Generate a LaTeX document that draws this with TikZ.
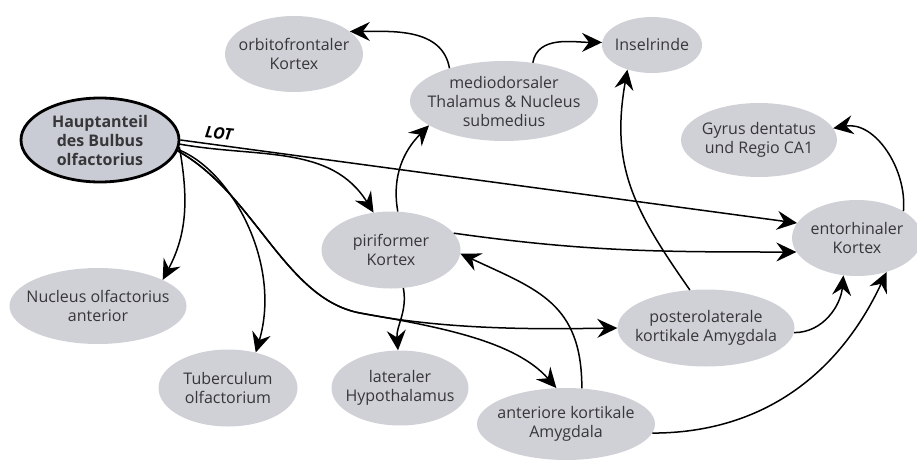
\documentclass[tikz,border=0pt]{standalone}
\usepackage{fontspec}
\setmainfont{Open Sans}
\usepackage{xcolor}
\usepackage{tikz}
\usetikzlibrary{shapes, arrows.meta, calc}

\definecolor{areagrey}{RGB}{208,209,214}
\definecolor{bulbgrey}{RGB}{201,204,212}
\definecolor{textgrey}{RGB}{55,55,58}

\begin{document}
\begin{tikzpicture}[x=1pt, y=1pt,
    area/.style={ellipse, fill=areagrey, inner xsep=-25pt, inner ysep=-12pt, align=center, text=textgrey,
                 font=\fontsize{16}{19}\selectfont},
    link/.style={line width=1.5pt, -{Stealth[length=20pt, width=19pt, inset=7pt]}}]
      \useasboundingbox (0,0) rectangle (917,459);

      \node[area, draw=black, line width=2.8pt, fill=bulbgrey, minimum width=158pt, minimum height=84pt,
            font=\fontsize{16}{19}\selectfont\bfseries] at (100,319) (bulbus) {Hauptanteil\\des Bulbus\\olfactorius};
      \node[area, minimum width=138pt, minimum height=76pt] at (294,405) (orbito) {orbitofrontaler\\Kortex};
      \node[area, minimum width=188pt, minimum height=80pt] at (504,358) (medio) {mediodorsaler\\Thalamus \& Nucleus\\submedius};
      \node[area, minimum width=100pt, minimum height=56pt] at (652,414) (insel) {Inselrinde};
      \node[area, minimum width=156pt, minimum height=74pt] at (759,319) (gyrus) {Gyrus dentatus\\und Regio CA1};
      \node[area, minimum width=130pt, minimum height=76pt] at (857,221) (ento) {entorhinaler\\Kortex};
      \node[area, minimum width=139pt, minimum height=77pt] at (391,209) (piri) {piriformer\\Kortex};
      \node[area, minimum width=177pt, minimum height=76pt] at (98,153) (noa) {Nucleus olfactorius\\anterior};
      \node[area, minimum width=139pt, minimum height=77pt] at (228,71) (tuber) {Tuberculum\\olfactorium};
      \node[area, minimum width=137pt, minimum height=75pt] at (400,71) (hypo) {lateraler\\Hypothalamus};
      \node[area, minimum width=177pt, minimum height=77pt] at (706,131) (plco) {posterolaterale\\kortikale Amygdala};
      \node[area, minimum width=178pt, minimum height=72pt] at (566,35) (acoa) {anteriore kortikale\\Amygdala};

      \node[font=\fontsize{16}{18}\selectfont\bfseries\itshape, rotate=-6] at (219,326) (lot) {LOT};

      % Projektionen des Bulbus
      \draw[link] (bulbus.east) -- (ento.166);
      \draw[link] (bulbus.-3) to[out=-10, in=122] (piri.115);
      \draw[link] (bulbus.-5) to[out=-80, in=62] (noa.22);
      \draw[link] (bulbus.-7) .. controls (232,288) and (282,195) .. (tuber.52);
      \draw[link] (bulbus.-8) .. controls (255,265) and (285,160) .. (360,146)
                  .. controls (450,128) and (550,130) .. (plco.west);
      \draw[link] (bulbus.-8) .. controls (255,265) and (285,160) .. (360,146)
                  .. controls (440,132) and (515,118) .. (acoa.105);

      % weitere Verbindungen
      \draw[link] (piri.80) to[out=100, in=225] (medio.198);
      \draw[link] (piri.-72) to[out=-80, in=95] (hypo.93);
      \draw[link] (piri.15) to[out=-8, in=180] (ento.193);
      \draw[link] (acoa.66) to[out=90, in=-25, looseness=1.2] (piri.-3);
      \draw[link] (plco.113) to[out=125, in=-100, looseness=1.1] (insel.225);
      \draw[link] (medio.149) to[out=100, in=0] (orbito.22);
      \draw[link] (medio.53) to[out=80, in=180] (insel.177);
      \draw[link] (plco.-3) to[out=0, in=-95] (ento.-110);
      \draw[link] (acoa.-6) to[out=0, in=-115] (ento.-49);
      \draw[link] (ento.30) to[out=85, in=10] (gyrus.9);
    \end{tikzpicture}
\end{document}
